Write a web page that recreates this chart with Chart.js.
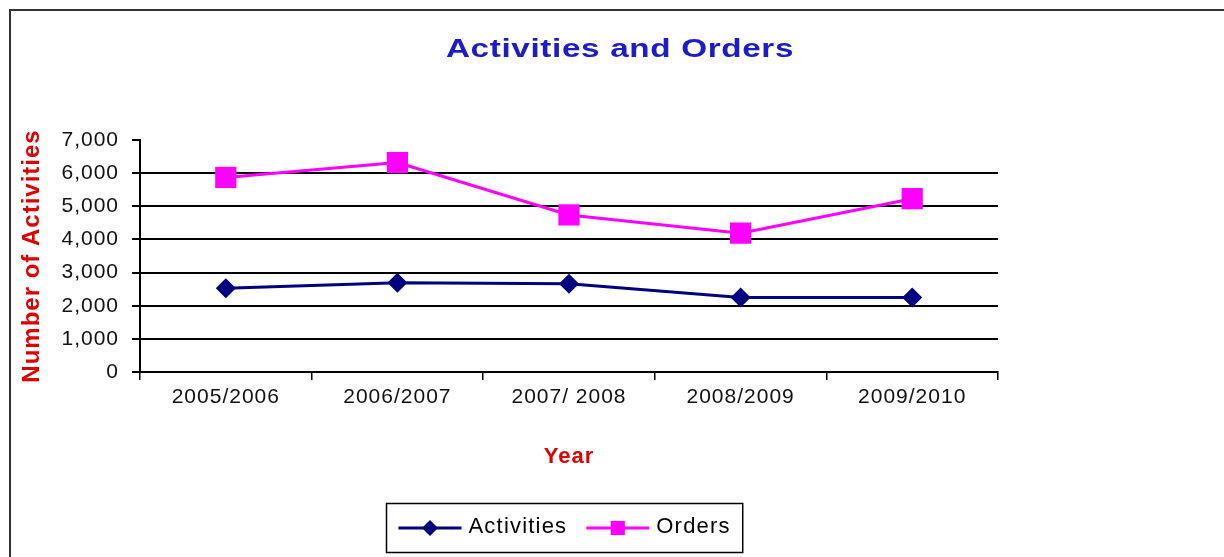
<!DOCTYPE html>
<html>
<head>
<meta charset="utf-8">
<title>Activities and Orders</title>
<script src="https://cdn.jsdelivr.net/npm/chart.js@4.4.1/dist/chart.umd.min.js"></script>
<style>
  html, body { margin: 0; padding: 0; background: #fff; }
  canvas { display: block; }
</style>
</head>
<body>
<canvas id="chart1" width="1224" height="557"></canvas>
<script>
// data
var years = ["2005/2006", "2006/2007", "2007/ 2008", "2008/2009", "2009/2010"];
var activities = [2530, 2690, 2660, 2250, 2250];
var orders = [5870, 6320, 4740, 4190, 5230];
var yTicks = [0, 1000, 2000, 3000, 4000, 5000, 6000, 7000];

var chartTitle = "Activities and Orders";
var xTitle = "Year";
var yTitle = "Number of Activities";

var fontFamily = '"Liberation Sans", Arial, sans-serif';
var red = "#e00000";
var yMax = yTicks[yTicks.length - 1];

// frame, title and boxed legend (Excel style)
var excelLook = {
  id: "excelLook",
  beforeDraw: function (chart) {
    var ctx = chart.ctx;
    ctx.save();
    ctx.fillStyle = "#fff";
    ctx.fillRect(0, 0, chart.width, chart.height);
    ctx.strokeStyle = "#333";
    ctx.lineWidth = 2;
    ctx.beginPath();
    ctx.moveTo(10, chart.height);
    ctx.lineTo(10, 10);
    ctx.lineTo(chart.width, 10);
    ctx.stroke();
    ctx.restore();
    //slightly wider text like the original
    ctx.letterSpacing = "1px";
  },
  afterDraw: function (chart) {
    var ctx = chart.ctx;
    var area = chart.chartArea;
    ctx.save();

    // title, stretched sideways like the original picture
    ctx.save();
    ctx.letterSpacing = "0.5px";
    ctx.font = "bold 26px " + fontFamily;
    ctx.fillStyle = "#1c1cc8";
    ctx.textAlign = "center";
    ctx.textBaseline = "middle";
    ctx.translate(620, 50);
    ctx.scale(1.28, 1);
    ctx.fillText(chartTitle, 0, 0);
    ctx.restore();

    // legend
    ctx.letterSpacing = "1.2px";
    ctx.font = "22px " + fontFamily;
    var sets = chart.data.datasets;
    var lineLen = 63, gapText = 7, gapItem = 19, pad = 12, h = 49;
    var widths = sets.map(function (ds) { return ctx.measureText(ds.label).width; });
    var total = pad * 2 + gapItem * (sets.length - 1);
    widths.forEach(function (w) { total += lineLen + gapText + w; });
    var cx = (area.left + area.right) / 2 - 5;
    var left = Math.round(cx - total / 2) + 0.5;
    var top = 503.5;
    ctx.strokeStyle = "#000";
    ctx.lineWidth = 1.5;
    ctx.strokeRect(left, top, total, h);

    var x = left + pad;
    var y = top + h / 2;
    sets.forEach(function (ds, i) {
      ctx.strokeStyle = ds.borderColor;
      ctx.lineWidth = 3;
      ctx.beginPath();
      ctx.moveTo(x, y);
      ctx.lineTo(x + lineLen, y);
      ctx.stroke();
      ctx.fillStyle = ds.backgroundColor;
      Chart.helpers.drawPoint(ctx, {
        pointStyle: ds.pointStyle,
        radius: ds.legendRadius,
        rotation: 0,
        borderWidth: 0
      }, x + lineLen / 2, y);
      x += lineLen + gapText;
      ctx.fillStyle = "#000";
      ctx.textAlign = "left";
      ctx.textBaseline = "middle";
      ctx.fillText(ds.label, x, y - 1);
      x += widths[i] + gapItem;
    });

    ctx.restore();
    ctx.letterSpacing = "0px";
  }
};

const ctx = document.getElementById("chart1");

var myChart = new Chart(ctx, {
  type: "line",
  data: {
    labels: years,
    datasets: [
      {
        label: "Activities",
        data: activities,
        borderColor: "#000080",
        backgroundColor: "#000080",
        borderWidth: 3,
        pointStyle: "rectRot",
        pointRadius: 10,
        pointBorderWidth: 0,
        legendRadius: 8,
        tension: 0,
      },
      {
        label: "Orders",
        data: orders,
        borderColor: "#ff00ff",
        backgroundColor: "#ff00ff",
        borderWidth: 3,
        pointStyle: "rect",
        pointRadius: 15,
        pointBorderWidth: 0,
        legendRadius: 10,
        tension: 0,
      },
    ],
  },
  options: {
    responsive: false,
    animation: false,
    events: [],
    layout: {
      padding: { left: 0, top: 140, right: 226, bottom: 85 },
    },
    plugins: {
      legend: { display: false },
      title: { display: false },
      tooltip: { enabled: false },
    },
    scales: {
      x: {
        offset: true,
        grid: {
          display: true,
          drawOnChartArea: false,
          drawTicks: true,
          tickLength: 8,
          offset: true,
          color: "#000",
          lineWidth: 1.5,
        },
        border: { display: true, color: "#000", width: 2 },
        ticks: {
          color: "#111",
          font: { family: fontFamily, size: 21 },
          padding: 5,
          maxRotation: 0,
          autoSkip: false,
        },
        title: {
          display: true,
          text: xTitle,
          color: red,
          font: { family: fontFamily, size: 22, weight: "bold" },
          padding: { top: 0, bottom: 2 },
        },
        afterFit: function (scale) {
          scale.height = 100;
        },
      },
      y: {
        min: yTicks[0],
        max: yMax,
        ticks: {
          stepSize: yTicks[1] - yTicks[0],
          color: "#111",
          font: { family: fontFamily, size: 21 },
          padding: 13,
          callback: function (value) {
            return value.toLocaleString("en-US");
          },
        },
        grid: {
          //no gridline at the top value, only its tick
          color: function (context) {
            return context.tick && context.tick.value === yMax ? "rgba(0,0,0,0)" : "#000";
          },
          tickColor: "#000",
          lineWidth: 2,
          tickLength: 8,
        },
        border: { display: true, color: "#000", width: 2 },
        title: {
          display: true,
          text: yTitle,
          color: red,
          font: { family: fontFamily, size: 24, weight: "bold" },
          padding: { top: 18, bottom: 0 },
        },
        afterFit: function (scale) {
          scale.width = 140;
        },
      },
    },
  },
  plugins: [excelLook],
});
</script>
</body>
</html>
